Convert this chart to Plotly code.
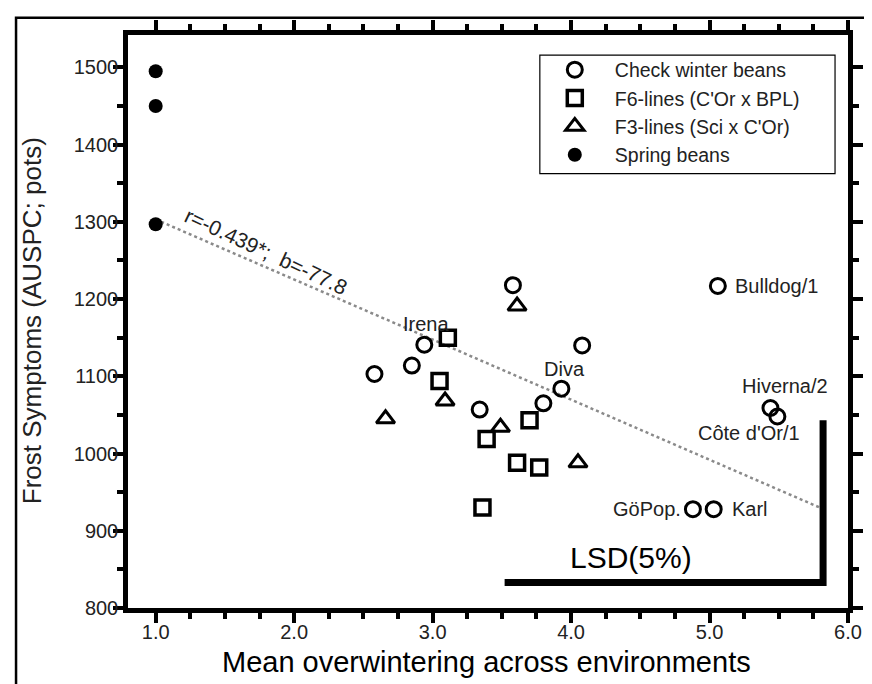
import plotly.graph_objects as go

# ---- data ----
check_x = [2.58, 2.85, 2.94, 3.34, 3.58, 4.08, 3.93, 3.80, 5.06, 5.44, 5.49, 4.88, 5.03]
check_y = [1103, 1114, 1141, 1057, 1218, 1140, 1084, 1065, 1217, 1059, 1048, 928, 928]

f6_x = [3.11, 3.05, 3.70, 3.39, 3.61, 3.77, 3.36]
f6_y = [1150, 1094, 1043, 1019, 988, 982, 930]

f3_x = [3.61, 3.09, 2.66, 3.49, 4.05]
f3_y = [1191, 1068, 1045, 1034, 988]

spring_x = [1.0, 1.0, 1.0]
spring_y = [1495, 1450, 1297]

reg_intercept = 1381.0
reg_slope = -77.8
reg_x = [1.0, 5.8]

lsd_x = [3.52, 5.82]
lsd_y = [833, 1043]

labels = ["Irena", "Diva", "Bulldog/1", "Hiverna/2", "Côte d'Or/1", "GöPop.", "Karl"]
label_x = [2.95, 3.95, 5.17, 5.545, 5.285, 4.81, 5.15]
label_y = [1168, 1110, 1217, 1087, 1026, 928, 928]
label_anchor = ["center", "center", "left", "center", "center", "right", "left"]

FONT = "Liberation Sans, Arial, sans-serif"
TXT = "#222222"

fig = go.Figure()

fig.add_trace(go.Scatter(
    x=reg_x, y=[reg_intercept + reg_slope * v for v in reg_x], mode="lines",
    line=dict(color="#8a8a8a", width=2.5, dash="dot"), showlegend=False, hoverinfo="skip"))

fig.add_trace(go.Scatter(
    x=check_x, y=check_y, mode="markers", name="Check winter beans",
    marker=dict(symbol="circle-open", size=15, color="black", line=dict(width=3, color="black"))))
fig.add_trace(go.Scatter(
    x=f6_x, y=f6_y, mode="markers", name="F6-lines (C'Or x BPL)",
    marker=dict(symbol="square-open", size=15, color="black", line=dict(width=3.5, color="black"))))
fig.add_trace(go.Scatter(
    x=f3_x, y=f3_y, mode="markers", name="F3-lines (Sci x C'Or)",
    marker=dict(symbol="triangle-up-open", size=16, color="black", line=dict(width=3, color="black"))))
fig.add_trace(go.Scatter(
    x=spring_x, y=spring_y, mode="markers", name="Spring beans",
    marker=dict(symbol="circle", size=14, color="black")))

# LSD bracket
fig.add_trace(go.Scatter(
    x=[lsd_x[0], lsd_x[1], lsd_x[1]], y=[lsd_y[0], lsd_y[0], lsd_y[1]], mode="lines",
    line=dict(color="black", width=7), showlegend=False, hoverinfo="skip"))

for t, x, y, a in zip(labels, label_x, label_y, label_anchor):
    fig.add_annotation(x=x, y=y, text=t, showarrow=False, xanchor=a, yanchor="middle",
                       font=dict(family=FONT, size=20, color=TXT))

fig.add_annotation(x=1.80, y=1262, text="r=-0.439*;  b=-77.8", showarrow=False, textangle=25,
                   font=dict(family=FONT, size=21, color=TXT))
fig.add_annotation(x=4.43, y=866, text="LSD(5%)", showarrow=False,
                   font=dict(family=FONT, size=30, color="black"))

# axis titles
fig.add_annotation(xref="paper", yref="paper", x=0.4986, y=-0.094, xanchor="center", yanchor="middle",
                   text="Mean overwintering across environments", showarrow=False,
                   font=dict(family=FONT, size=29, color="black"))
fig.add_annotation(xref="paper", yref="paper", x=-0.133, y=0.501, xanchor="center", yanchor="middle",
                   textangle=-90, text="Frost Symptoms (AUSPC; pots)", showarrow=False,
                   font=dict(family=FONT, size=26, color=TXT))

# outer frame
fig.add_shape(type="rect", xref="paper", yref="paper", x0=-0.1555, x1=1.2, y0=-0.3, y1=1.0302,
              line=dict(color="black", width=2.5), layer="below")
# legend frame
fig.add_shape(type="rect", xref="paper", yref="paper", x0=0.572, x1=0.982, y0=0.758, y1=0.965,
              line=dict(color="black", width=1.2), fillcolor="rgba(0,0,0,0)", layer="above")

axis_common = dict(showline=True, linecolor="black", linewidth=4.5, mirror="allticks",
                   ticks="outside", ticklen=10, tickwidth=4, tickcolor="black",
                   showgrid=False, zeroline=False,
                   tickfont=dict(family=FONT, size=20, color=TXT))

fig.update_xaxes(range=[0.8, 6.0], tick0=1, dtick=1, tickformat=".1f", ticklabelstandoff=-8,
                 minor=dict(ticks="outside", dtick=0.25, tick0=1, ticklen=6, tickwidth=3.5, tickcolor="black"),
                 **axis_common)
fig.update_yaxes(range=[800, 1542], tick0=800, dtick=100, ticklabelstandoff=-9,
                 minor=dict(ticks="outside", dtick=50, tick0=800, ticklen=6, tickwidth=3.5, tickcolor="black"),
                 **axis_common)

fig.update_layout(
    width=872, height=684,
    margin=dict(l=120, r=32, t=25, b=84),
    plot_bgcolor="white", paper_bgcolor="white",
    font=dict(family=FONT, color=TXT),
    legend=dict(x=0.565, y=0.973, xanchor="left", yanchor="top",
                borderwidth=0, bgcolor="rgba(0,0,0,0)",
                font=dict(family=FONT, size=19.5, color=TXT), itemwidth=70),
)

fig.write_html("out.html")
